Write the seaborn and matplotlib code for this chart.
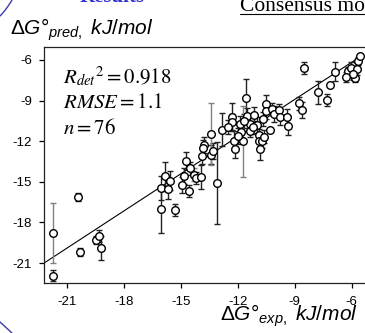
import numpy as np
import pandas as pd
import seaborn as sns
import matplotlib
matplotlib.use("Agg")
import matplotlib.pyplot as plt
from matplotlib.lines import Line2D

# ---------------- data ----------------
dg_exp = [-21.75, -20.41, -20.32, -21.75, -19.44, -19.30, -19.19, -16.02, -15.32, -16.02,
          -15.84, -15.67, -14.96, -14.83, -14.74, -14.56, -14.30, -14.21, -13.95, -13.86,
          -13.77, -13.42, -13.42, -13.12, -12.81, -12.30, -12.32, -12.21, -12.17, -11.84,
          -11.72, -11.56, -11.53, -11.17, -11.35, -11.00, -11.38, -10.91, -10.88, -10.83,
          -10.51, -10.51, -10.21, -10.12, -9.83, -9.77, -9.42, -9.38, -10.30, -8.77,
          -8.62, -8.51, -7.77, -7.28, -7.16, -6.89, -6.19, -6.02, -5.75, -5.84,
          -5.67, -5.58, -11.88, -13.83, -10.74, -11.20, -5.93, -11.68, -10.68, -10.63,
          -12.00, -12.53, -14.53, -13.32, -6.32, -15.58]
dg_pred = [-18.77, -16.12, -20.21, -21.93, -19.31, -18.99, -19.88, -17.03, -17.10, -15.46,
           -14.60, -15.56, -15.21, -14.58, -13.43, -15.68, -14.46, -14.70, -14.65, -13.06,
           -12.27, -11.46, -13.01, -15.07, -11.15, -10.19, -10.61, -11.96, -12.57, -11.35,
           -12.01, -8.77, -10.12, -10.04, -10.73, -10.78, -11.22, -11.51, -12.01, -12.57,
           -9.26, -9.75, -9.63, -9.99, -9.70, -10.19, -10.19, -10.85, -11.17, -9.21,
           -9.70, -6.57, -8.40, -8.96, -7.86, -6.88, -6.81, -6.57, -6.68, -7.30,
           -6.07, -5.71, -10.73, -12.52, -11.97, -10.98, -7.06, -10.49, -10.34, -11.66,
           -11.60, -10.93, -14.00, -12.70, -7.25, -14.90]
dg_err = [2.20, 0.30, 0.30, 0.40, 0.30, 0.45, 0.90, 1.75, 0.45, 0.90,
          1.10, 0.70, 0.60, 0.60, 0.60, 0.45, 0.45, 0.45, 0.90, 0.60,
          0.60, 2.30, 0.70, 3.05, 1.20, 1.00, 0.60, 0.70, 0.70, 0.60,
          2.60, 1.40, 0.60, 0.60, 0.60, 0.60, 0.45, 0.45, 0.60, 0.80,
          0.70, 0.60, 0.45, 0.60, 0.45, 0.60, 0.60, 0.70, 0.00, 0.45,
          0.60, 0.45, 0.85, 0.45, 0.00, 0.70, 0.30, 0.45, 0.45, 0.30,
          0.30, 0.00, 0.60, 0.60, 0.50, 0.50, 0.40, 0.50, 0.50, 0.50,
          0.60, 0.50, 0.50, 0.60, 0.40, 0.70]
grey_err = [0, 16, 30, 21]          # indices of points with grey error bars

fit_slope = 0.916
fit_intercept = -0.665
fit_range = [-22.2, -5.5]

ticks = [-21, -18, -15, -12, -9, -6]
stats_lines = [r"$R_{det}{}^{2} = 0.918$", r"$RMSE = 1.1$", r"$n = 76$"]

# ---------------- style ----------------
sns.set_theme(style="ticks")
plt.rcParams["font.family"] = ["Liberation Sans", "DejaVu Sans"]
plt.rcParams["mathtext.fontset"] = "custom"
plt.rcParams["mathtext.rm"] = "Liberation Sans"
plt.rcParams["mathtext.it"] = "Liberation Sans:italic"
plt.rcParams["mathtext.bf"] = "Liberation Sans:bold"

W, H = 365, 333
fig = plt.figure(figsize=(W / 100, H / 100), dpi=100)
ax_left, ax_bottom, ax_top = 44, 283, 47
xlim = (-22.2, -5.0)
ylim = (-22.47, -5.04)
px_per_x = 19.0
ax_w = (xlim[1] - xlim[0]) * px_per_x
ax = fig.add_axes([ax_left / W, (H - ax_bottom) / H, ax_w / W, (ax_bottom - ax_top) / H])

df = pd.DataFrame({"exp": dg_exp, "pred": dg_pred, "err": dg_err})
df["grey"] = [i in grey_err for i in range(len(df))]

# regression line
line_df = pd.DataFrame({"x": fit_range})
line_df["y"] = fit_slope * line_df["x"] + fit_intercept
sns.lineplot(data=line_df, x="x", y="y", ax=ax, color="black", lw=0.8, zorder=2)

# error bars
for grey, sub in df.groupby("grey"):
    sub = sub[sub["err"] > 0]
    ax.errorbar(sub["exp"], sub["pred"], yerr=sub["err"], fmt="none",
                ecolor="#808080" if grey else "#222222", elinewidth=1.0,
                capsize=2.3, capthick=1.0, zorder=2.5)

sns.scatterplot(data=df, x="exp", y="pred", ax=ax, marker="o", s=30,
                facecolor="white", edgecolor="black", linewidth=1.0, zorder=3)

ax.set_xlim(*xlim)
ax.set_ylim(*ylim)
ax.set_xticks(ticks)
ax.set_yticks(ticks)
ax.set_xticklabels([str(t) for t in ticks])
ax.set_yticklabels([str(t) for t in ticks])
ax.tick_params(axis="both", direction="out", length=3.5, width=0.9, colors="black",
               labelsize=9.5)
ax.tick_params(axis="x", pad=6)
ax.tick_params(axis="y", pad=5)
ax.set_xlabel("")
ax.set_ylabel("")
for s in ax.spines.values():
    s.set_linewidth(0.9)
    s.set_color("#222222")
    s.set_visible(True)

# stats text (Times-like)
y0 = 77
for i, t in enumerate(stats_lines):
    fig.text(63 / W, 1 - (y0 + 25.5 * i) / H, t, fontsize=15, va="center", ha="left",
             math_fontfamily="stix", color="black")

# axis labels
fig.text(10 / W, 1 - 35 / H, r"$\mathrm{\Delta}G\mathrm{°}_{pred,}\ kJ/mol$",
         fontsize=15, ha="left", va="baseline", color="black")
fig.text(358 / W, 1 - 321 / H, r"$\mathrm{\Delta}G\mathrm{°}_{exp,}\ kJ/mol$",
         fontsize=15, ha="right", va="baseline", color="black")

# slide decorations
fig.text(240 / W, 1 - 11 / H, "Consensus model", fontsize=15.5, family="Liberation Serif",
         ha="left", va="baseline", color="black")
fig.add_artist(Line2D([240 / W, 1.0], [1 - 14 / H, 1 - 14 / H], color="black", lw=0.8))
fig.text(80 / W, 1 - 2 / H, "Results", fontsize=15, family="Liberation Serif",
         fontweight="bold", ha="left", va="baseline", color="#3333cc")
t = np.linspace(0, 1, 30)
fig.add_artist(Line2D((12 * t) / W, 1 - (16 - 16 * t + 4 * t * (1 - t)) / H,
                      color="#3a3aa8", lw=1.0))
fig.add_artist(Line2D((12 * t) / W, 1 - (322 + 11 * t) / H, color="#3a3aa8", lw=1.0))

fig.savefig("out.png", dpi=100)
